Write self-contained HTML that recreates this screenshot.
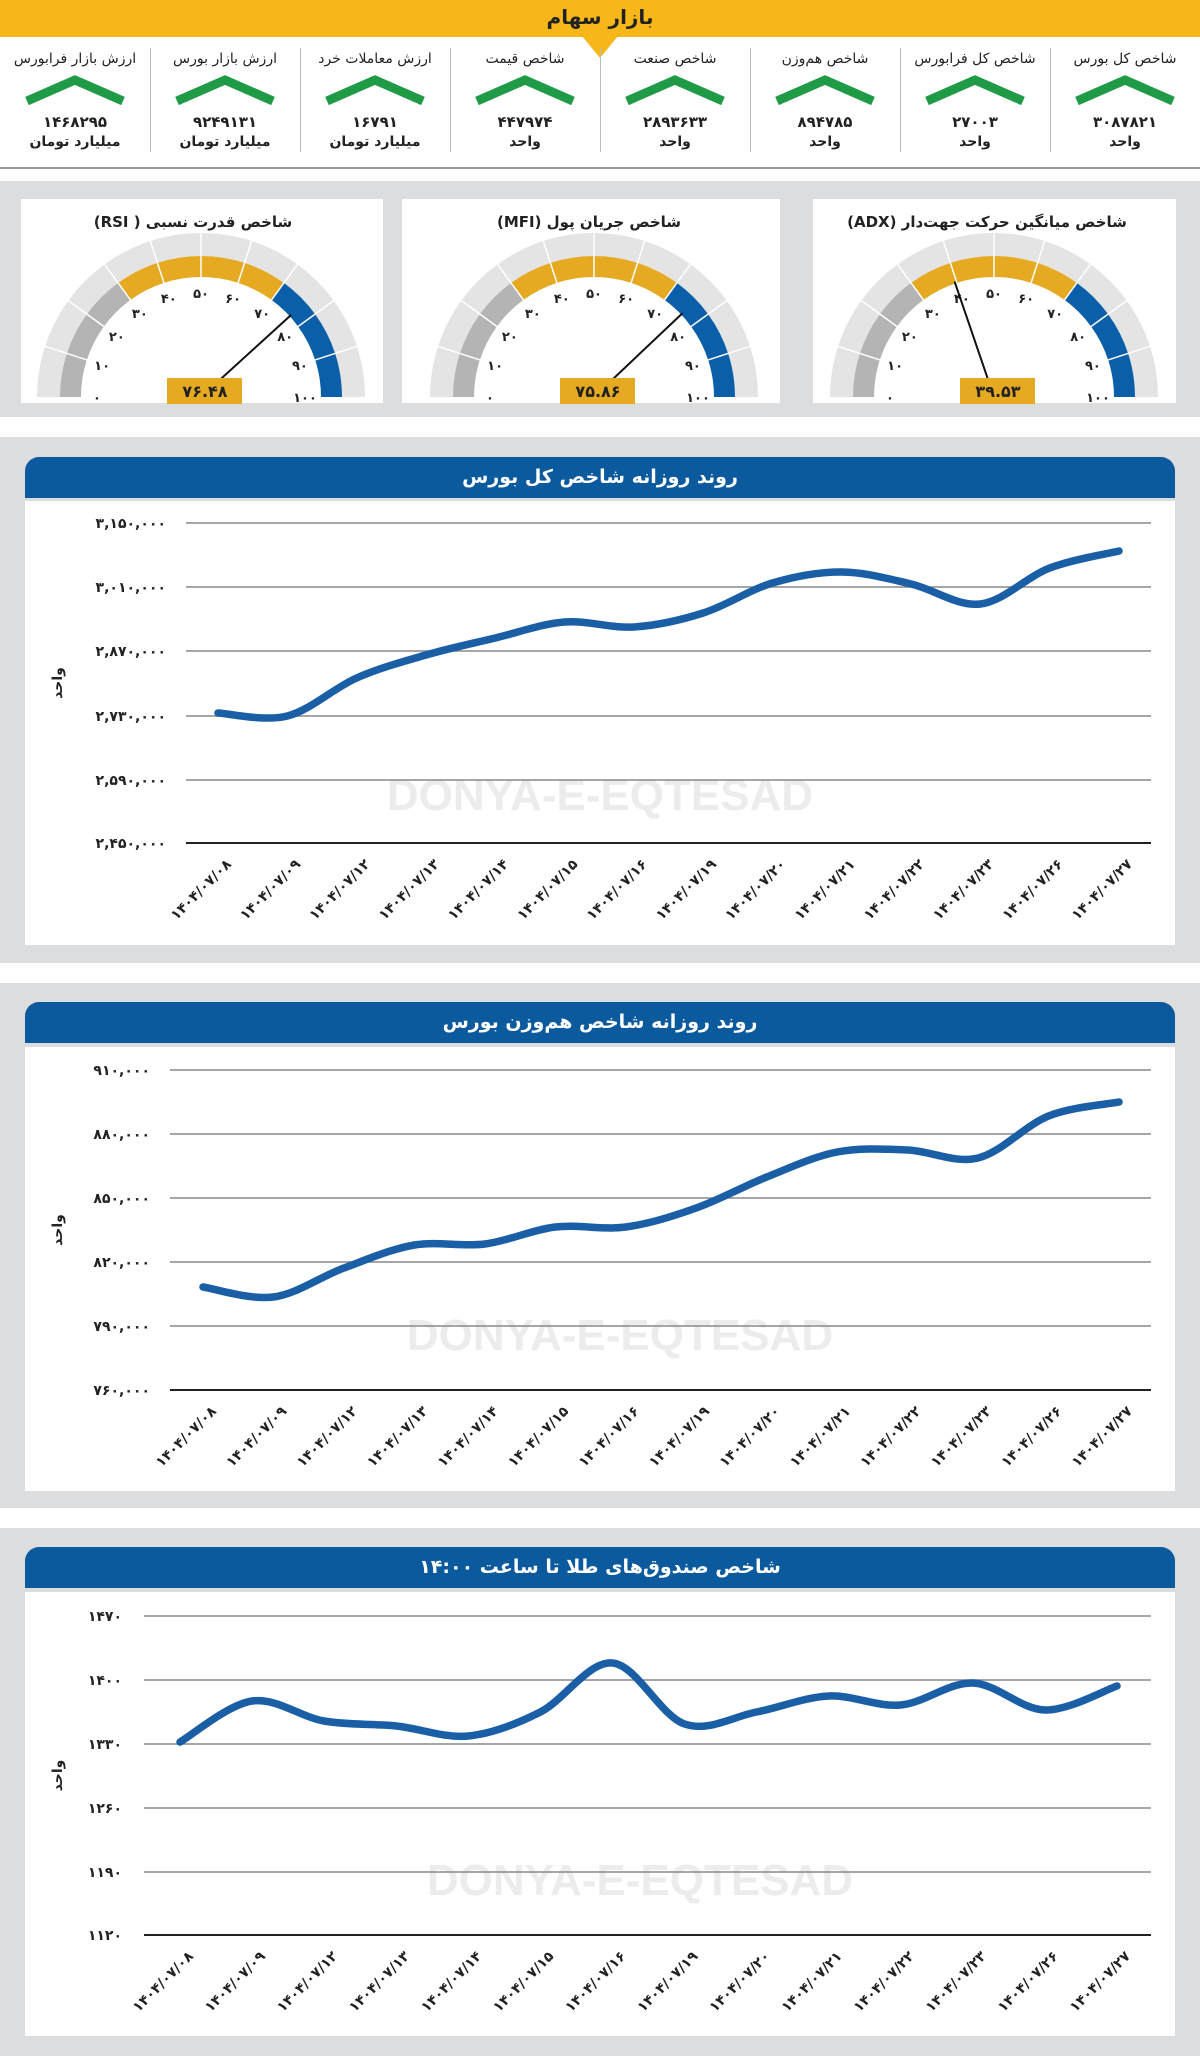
<!DOCTYPE html>
<html><head><meta charset="utf-8">
<style>
body{margin:0;width:1200px;height:2056px;background:#fff;position:relative;overflow:hidden;font-family:"DejaVu Sans",sans-serif}
.top{position:absolute;left:0;top:0;width:1200px;height:37px;background:#f8b719}
.top span{position:absolute;left:0;width:1200px;top:5px;text-align:center;font-size:20px;font-weight:bold;color:#222;direction:rtl}
.tri{position:absolute;left:582px;top:36px;width:0;height:0;border-left:18px solid transparent;border-right:18px solid transparent;border-top:22px solid #f8b719}
.col{position:absolute;top:48px;width:150px;height:104px;text-align:center;direction:rtl;color:#222}
.col .t{font-size:14px;margin-top:0;height:30px;line-height:22px}
.col .n{font-size:15px;font-weight:bold;margin-top:9px}
.col .u{font-size:14px;font-weight:bold;margin-top:3px}
.div{position:absolute;top:48px;width:1px;height:104px;background:#bbb}
.hr{position:absolute;left:0;top:167px;width:1200px;height:2px;background:#999}
.panel{position:absolute;left:0;width:1200px;background:#dcdddf}
.card{position:absolute;background:#fff}
.hdr{position:absolute;left:25px;width:1150px;height:41px;background:#0b5a9e;border-radius:14px 14px 0 0;color:#fff;text-align:center;font-size:19px;font-weight:bold;line-height:41px;direction:rtl}
svg{position:absolute;left:0;top:0}
</style></head><body>
<div class="top"><span>بازار سهام</span></div>
<div class="tri"></div>
<div class="hr"></div>
<div class="panel" style="top:181px;height:236px"></div>
<div class="card" style="left:21px;top:199px;width:362px;height:204px"></div>
<div class="card" style="left:402px;top:199px;width:378px;height:204px"></div>
<div class="card" style="left:813px;top:199px;width:363px;height:204px"></div>
<div class="panel" style="top:437px;height:526px"></div>
<div class="card" style="left:25px;top:501px;width:1150px;height:444px"></div>
<div class="hdr" style="top:457px">روند روزانه شاخص کل بورس</div>
<div class="panel" style="top:983px;height:525px"></div>
<div class="card" style="left:25px;top:1047px;width:1150px;height:444px"></div>
<div class="hdr" style="top:1002px">روند روزانه شاخص هم‌وزن بورس</div>
<div class="panel" style="top:1528px;height:528px"></div>
<div class="card" style="left:25px;top:1592px;width:1150px;height:444px"></div>
<div class="hdr" style="top:1547px">شاخص صندوق‌های طلا تا ساعت ۱۴:۰۰</div>
<div id="cols"></div>
<svg id="s" width="1200" height="2056" xmlns="http://www.w3.org/2000/svg"></svg>
<script>
var cols=[["شاخص کل بورس","۳۰۸۷۸۲۱","واحد"],["شاخص کل فرابورس","۲۷۰۰۳","واحد"],["شاخص هم‌وزن","۸۹۴۷۸۵","واحد"],["شاخص صنعت","۲۸۹۳۶۳۳","واحد"],["شاخص قیمت","۴۴۷۹۷۴","واحد"],["ارزش معاملات خرد","۱۶۷۹۱","میلیارد تومان"],["ارزش بازار بورس","۹۲۴۹۱۳۱","میلیارد تومان"],["ارزش بازار فرابورس","۱۴۶۸۲۹۵","میلیارد تومان"]];
var h="";
for(var i=0;i<8;i++){var x=1050-i*150;
h+='<div class="col" style="left:'+x+'px"><div class="t">'+cols[i][0]+'</div><div style="height:26px"></div><div class="n">'+cols[i][1]+'</div><div class="u">'+cols[i][2]+'</div></div>';
if(i>0)h+='<div class="div" style="left:'+(x+150)+'px"></div>';}
document.getElementById('cols').innerHTML=h;
var s="";
for(var i=0;i<8;i++){var c=75+i*150;s+='<polyline points="'+(c-48)+',101 '+c+',80 '+(c+48)+',101" fill="none" stroke="#1f9a46" stroke-width="9"/>';}
s+='<text x="600" y="810" font-size="44" font-weight="bold" fill="#ececec" text-anchor="middle" font-family="Liberation Sans">DONYA-E-EQTESAD</text>';
s+='<text x="620" y="1350" font-size="44" font-weight="bold" fill="#ececec" text-anchor="middle" font-family="Liberation Sans">DONYA-E-EQTESAD</text>';
s+='<text x="640" y="1895" font-size="44" font-weight="bold" fill="#ececec" text-anchor="middle" font-family="Liberation Sans">DONYA-E-EQTESAD</text>';
var fa="۰۱۲۳۴۵۶۷۸۹";function P(n){return String(n).replace(/[0-9]/g,function(d){return fa[+d]});}
function pt(cx,cy,v,r){var a=Math.PI*(1-v/100);return [cx+r*Math.cos(a),cy-r*Math.sin(a)];}
function band(cx,cy,v1,v2,r1,r2,col){var a=pt(cx,cy,v1,r2),b=pt(cx,cy,v2,r2),c=pt(cx,cy,v2,r1),d=pt(cx,cy,v1,r1);
return '<path d="M'+a+' A'+r2+','+r2+' 0 0 1 '+b+' L'+c+' A'+r1+','+r1+' 0 0 0 '+d+'Z" fill="'+col+'"/>';}
function gauge(cx,cy,val,lab,title,tx){
s+='<text x="'+tx+'" y="227" font-size="15" font-weight="bold" text-anchor="middle" direction="rtl" fill="#222">'+title+'</text>';
s+=band(cx,cy,0,100,141,164,'#e4e4e4');
for(var v=0;v<100;v+=10){var col=v<30?'#b4b4b4':(v<70?'#e5a922':'#0b5ea8');s+=band(cx,cy,v,v+10,120,141,col);}
for(var v=10;v<100;v+=10){var a=pt(cx,cy,v,120),b=pt(cx,cy,v,164);s+='<line x1="'+a[0]+'" y1="'+a[1]+'" x2="'+b[0]+'" y2="'+b[1]+'" stroke="#fff" stroke-width="1.5"/>';}
for(var v=0;v<=100;v+=10){var p=pt(cx,cy,v,104);s+='<text x="'+p[0]+'" y="'+(p[1]+5)+'" font-size="13" font-weight="bold" text-anchor="middle" fill="#222">'+P(v)+'</text>';}
var n=pt(cx,cy,val,122);s+='<line x1="'+cx+'" y1="'+cy+'" x2="'+n[0]+'" y2="'+n[1]+'" stroke="#111" stroke-width="2"/>';
s+='<rect x="'+(cx-34)+'" y="378" width="75" height="26" fill="#e5a922"/><text x="'+(cx+4)+'" y="397" font-size="16" font-weight="bold" text-anchor="middle" fill="#222">'+lab+'</text>';}
gauge(201,397,76.48,"۷۶.۴۸","شاخص قدرت نسبی ( RSI)",193);
gauge(594,397,75.86,"۷۵.۸۶","شاخص جریان پول (MFI)",589);
gauge(994,397,39.53,"۳۹.۵۳","شاخص میانگین حرکت جهت‌دار (ADX)",987);
var dates=["۰۸","۰۹","۱۲","۱۳","۱۴","۱۵","۱۶","۱۹","۲۰","۲۱","۲۲","۲۳","۲۶","۲۷"];
function smooth(p){var d="M"+p[0][0]+","+p[0][1];for(var i=0;i<p.length-1;i++){var p0=p[i-1]||p[i],p1=p[i],p2=p[i+1],p3=p[i+2]||p2;
d+=" C"+(p1[0]+(p2[0]-p0[0])/6)+","+(p1[1]+(p2[1]-p0[1])/6)+" "+(p2[0]-(p3[0]-p1[0])/6)+","+(p2[1]-(p3[1]-p1[1])/6)+" "+p2[0]+","+p2[1];}return d;}
function chart(gy,x0,x1,lx,labels,px0,px1,ys){
for(var i=0;i<6;i++){s+='<line x1="'+x0+'" y1="'+gy[i]+'" x2="'+x1+'" y2="'+gy[i]+'" stroke="'+(i==5?'#222':'#888')+'" stroke-width="'+(i==5?2:1.5)+'"/>';
s+='<text x="'+lx+'" y="'+(gy[i]+5)+'" font-size="14" font-weight="bold" text-anchor="end" fill="#222">'+labels[i]+'</text>';}
var my=(gy[0]+gy[5])/2;s+='<text transform="translate(62,'+my+') rotate(-90)" font-size="14" font-weight="bold" text-anchor="middle" fill="#222">واحد</text>';
var pts=[],st=(px1-px0)/13;
for(var i=0;i<14;i++){var x=px0+st*i;pts.push([x,ys[i]]);
s+='<text transform="translate('+(x+14)+','+(gy[5]+22)+') rotate(-45)" font-size="14" font-weight="bold" text-anchor="end" fill="#222">'+P("1404/07/")+dates[i]+'</text>';}
s+='<path d="'+smooth(pts)+'" fill="none" stroke="#1a5ea6" stroke-width="7.5" stroke-linecap="round"/>';}
chart([523,587,651,716,780,843],186,1151,166,["۳,۱۵۰,۰۰۰","۳,۰۱۰,۰۰۰","۲,۸۷۰,۰۰۰","۲,۷۳۰,۰۰۰","۲,۵۹۰,۰۰۰","۲,۴۵۰,۰۰۰"],218,1119,[713,716,678,655,638,622,627,613,583,572,584,604,568,551]);
chart([1070,1134,1198,1262,1326,1390],170,1151,150,["۹۱۰,۰۰۰","۸۸۰,۰۰۰","۸۵۰,۰۰۰","۸۲۰,۰۰۰","۷۹۰,۰۰۰","۷۶۰,۰۰۰"],203,1119,[1287,1297,1268,1245,1244,1227,1227,1208,1177,1152,1150,1158,1116,1102]);
chart([1616,1680,1744,1808,1872,1935],144,1151,122,["۱۴۷۰","۱۴۰۰","۱۳۳۰","۱۲۶۰","۱۱۹۰","۱۱۲۰"],180,1117,[1742,1701,1721,1726,1736,1712,1663,1724,1712,1696,1705,1683,1710,1686]);
document.getElementById('s').innerHTML=s;
</script>
</body></html>
